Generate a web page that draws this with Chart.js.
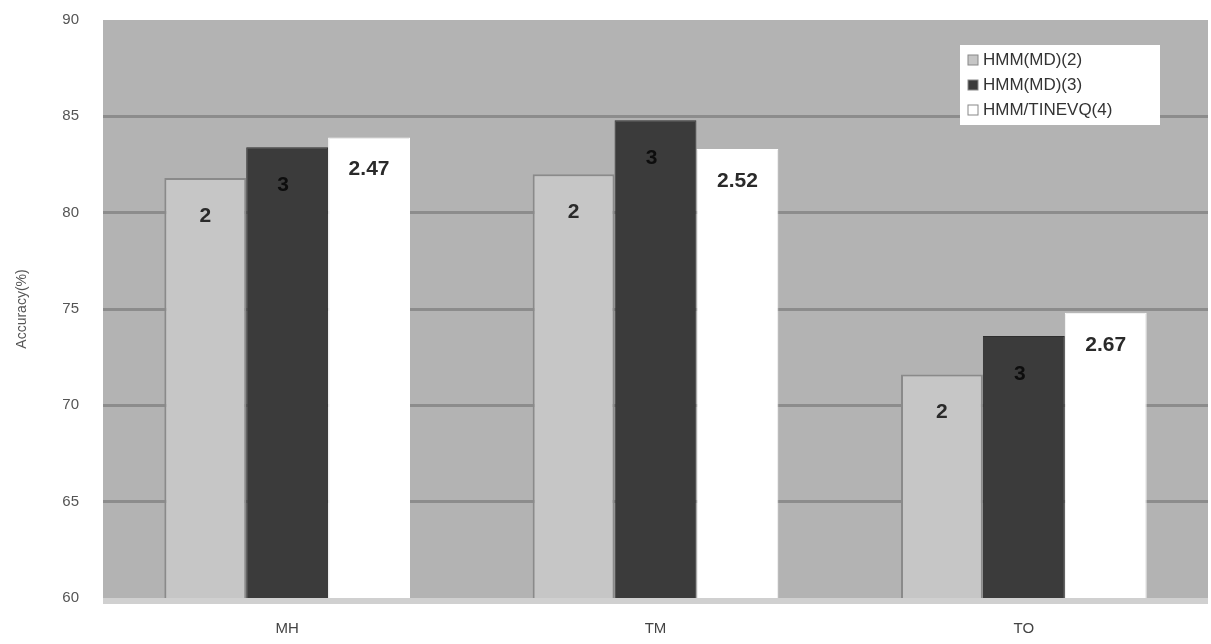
<!DOCTYPE html>
<html>
<head>
<meta charset="utf-8">
<script src="https://cdn.jsdelivr.net/npm/chart.js@4.4.0/dist/chart.umd.min.js"></script>
<style>
  body { margin: 0; background: #fff; }
  #wrap { width: 1211px; height: 644px; }
</style>
</head>
<body>
<div id="wrap"><canvas id="accChart" width="1211" height="644"></canvas></div>
<script>
const categories = ["MH", "TM", "TO"];
const seriesNames = ["HMM(MD)(2)", "HMM(MD)(3)", "HMM/TINEVQ(4)"];
const md2Values = [81.8, 82.0, 71.6];
const md3Values = [83.4, 84.8, 73.6];
const tinevqValues = [83.9, 83.3, 74.8];
const md2Labels = ["2", "2", "2"];
const md3Labels = ["3", "3", "3"];
const tinevqLabels = ["2.47", "2.52", "2.67"];
const yTicks = [60, 65, 70, 75, 80, 85, 90];

const barLabels = [md2Labels, md3Labels, tinevqLabels];

// gray textured plot background
const plotBackground = {
  id: "plotBackground",
  beforeDraw(chart) {
    const { ctx, chartArea: a } = chart;
    ctx.save();
    ctx.fillStyle = "#b3b3b3";
    ctx.fillRect(a.left, a.top, a.right - a.left, a.bottom - a.top);
    ctx.fillStyle = "#d0d0d0";
    ctx.fillRect(a.left, a.bottom, a.right - a.left, 6);
    ctx.restore();
  }
};

// numbers written near the top of each bar
const barText = {
  id: "barText",
  afterDatasetsDraw(chart) {
    const ctx = chart.ctx;
    ctx.save();
    ctx.font = "bold 21px 'Liberation Sans', Arial, sans-serif";
    ctx.textAlign = "center";
    ctx.textBaseline = "middle";
    chart.data.datasets.forEach((ds, i) => {
      ctx.fillStyle = i === 1 ? "#0d0d0d" : "#2a2a2a";
      chart.getDatasetMeta(i).data.forEach((bar, j) => {
        const dy = i === 2 ? 32 : 38;
        ctx.fillText(barLabels[i][j], bar.x - (i === 1 ? 4 : 0), bar.y + dy);
      });
    });
    ctx.restore();
  }
};

// legend box inside the plot, top right
const boxLegend = {
  id: "boxLegend",
  afterDraw(chart) {
    const { ctx, chartArea: a } = chart;
    const x = a.right - 248, y = 45, w = 200, h = 80;
    ctx.save();
    ctx.fillStyle = "#ffffff";
    ctx.fillRect(x, y, w, h);
    ctx.font = "17px 'Liberation Sans Narrow', 'Liberation Sans', Arial, sans-serif";
    ctx.textBaseline = "middle";
    chart.data.datasets.forEach((ds, i) => {
      const ly = y + 15 + i * 25;
      ctx.fillStyle = ds.backgroundColor;
      ctx.fillRect(x + 8, ly - 5, 10, 10);
      ctx.strokeStyle = "#888";
      ctx.lineWidth = 1;
      ctx.strokeRect(x + 8, ly - 5, 10, 10);
      ctx.fillStyle = "#333";
      ctx.fillText(ds.label, x + 23, ly);
    });
    ctx.restore();
  }
};

const ctx = document.getElementById("accChart").getContext("2d");
new Chart(ctx, {
  type: "bar",
  data: {
    labels: categories,
    datasets: [
      { label: seriesNames[0], data: md2Values, backgroundColor: "#c6c6c6", borderColor: "#8a8a8a", borderWidth: 2 },
      { label: seriesNames[1], data: md3Values, backgroundColor: "#3b3b3b", borderColor: "#2e2e2e", borderWidth: 1 },
      { label: seriesNames[2], data: tinevqValues, backgroundColor: "#ffffff", borderColor: "#ffffff", borderWidth: 1 }
    ]
  },
  options: {
    responsive: false,
    animation: false,
    layout: { padding: { top: 20, right: 3, left: 0, bottom: 0 } },
    plugins: { legend: { display: false }, tooltip: { enabled: false } },
    datasets: { bar: { categoryPercentage: 0.667, barPercentage: 1.0 } },
    scales: {
      x: {
        grid: { display: false },
        border: { display: false },
        ticks: { color: "#444", font: { size: 15, family: "'Liberation Sans', Arial, sans-serif" }, padding: 14 },
        afterFit(s) { s.height = 46; }
      },
      y: {
        min: 60,
        max: 90,
        afterBuildTicks(s) { s.ticks = yTicks.map(v => ({ value: v })); },
        grid: {
          color: c => (c.tick && (c.tick.value === 90 || c.tick.value === 60)) ? "rgba(0,0,0,0)" : "#8c8c8c",
          lineWidth: 3,
          drawTicks: false
        },
        border: { display: false },
        ticks: { color: "#555", font: { size: 15, family: "'Liberation Sans', Arial, sans-serif" }, padding: 24 },
        title: { display: true, text: "Accuracy(%)", color: "#555", font: { size: 14, family: "'Liberation Sans', Arial, sans-serif" }, padding: { top: 14, bottom: 0 } },
        afterFit(s) { s.width = 103; s.paddingTop = 0; s.paddingBottom = 0; }
      }
    }
  },
  plugins: [plotBackground, barText, boxLegend]
});
</script>
</body>
</html>
